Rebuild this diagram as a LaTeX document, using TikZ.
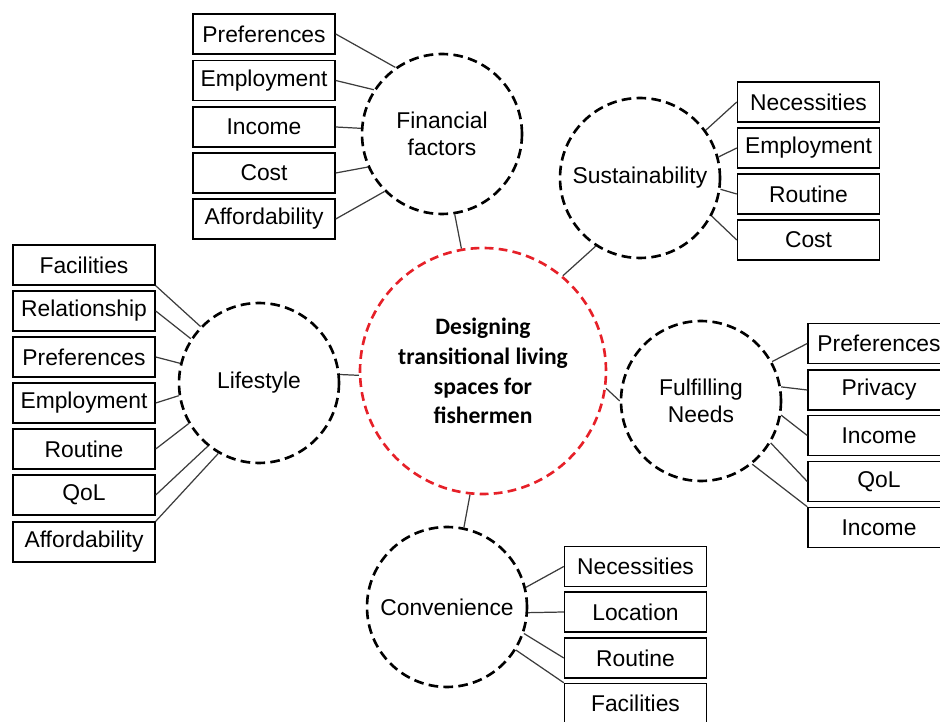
\documentclass[tikz,border=0pt]{standalone}
\usepackage{fontspec}
\setmainfont{Liberation Sans}
\newfontfamily\calibri{Carlito}
\usepackage{xcolor}
\definecolor{mainred}{RGB}{230,32,40}
\definecolor{linkgray}{RGB}{60,60,60}

\begin{document}
\begin{tikzpicture}[x=0.02cm, y=-0.02cm,
    factor/.style={draw, black, line width=1.5pt, dash pattern=on 5.5pt off 3pt, circle, minimum size=3.2cm, inner sep=0pt, align=center, font=\fontsize{13}{15.5}\selectfont},
    hub/.style={draw, mainred, line width=1.5pt, dash pattern=on 5pt off 3pt, circle, minimum size=4.92cm, inner sep=0pt, align=center, text=black, font=\calibri\bfseries\fontsize{13.4}{17}\selectfont},
    item/.style={draw, line width=0.85pt, minimum width=2.84cm, minimum height=0.8cm, inner sep=0pt, font=\fontsize{13}{15.5}\selectfont},
    link/.style={draw, linkgray, line width=0.7pt}]
    \useasboundingbox (0,0) rectangle (940,722);

    % Central circle
    \node[hub] (main) at (483,371) {Designing\\transitional living\\spaces for\\fishermen};

    % Factor circles
    \node[factor] (fin) at (442,134) {Financial\\factors};
    \node[factor] (sus) at (640,178) {Sustainability};
    \node[factor] (life) at (259,383) {Lifestyle};
    \node[factor] (need) at (701,401) {Fulfilling\\Needs};
    \node[factor] (conv) at (447,607) {Convenience};

    % Links to the central circle
    \draw[link] (fin.279) -- (main.100);
    \draw[link] (sus.237) -- (main.50);
    \draw[link] (life.6) -- (main.182);
    \draw[link] (main.-8) -- (need.180);
    \draw[link] (main.264) -- (conv.78);

    % Financial factors boxes
    \node[item] (finpref) at (264,34) {Preferences};
    \node[item] (finemp) at (264,80.5) {Employment};
    \node[item] (fininc) at (264,127) {Income};
    \node[item] (fincost) at (264,173) {Cost};
    \node[item] (finaff) at (264,219) {Affordability};
    \draw[link] (finpref.east) -- (fin.125);
    \draw[link] (finemp.east) -- (fin.147);
    \draw[link] (fininc.east) -- (fin.176);
    \draw[link] (fincost.east) -- (fin.204);
    \draw[link] (finaff.east) -- (fin.225);

    % Sustainability boxes
    \node[item] (susnec) at (808.5,102) {Necessities};
    \node[item] (susemp) at (808.5,148) {Employment};
    \node[item] (susrou) at (808.5,194) {Routine};
    \node[item] (suscost) at (808.5,240) {Cost};
    \draw[link] (susnec.west) -- (sus.36);
    \draw[link] (susemp.west) -- (sus.15);
    \draw[link] (susrou.west) -- (sus.-8);
    \draw[link] (suscost.west) -- (sus.-28);

    % Lifestyle boxes
    \node[item] (lifefac) at (84,265) {Facilities};
    \node[item] (liferel) at (84,311) {Relationship};
    \node[item] (lifepref) at (84,357) {Preferences};
    \node[item] (lifeemp) at (84,403) {Employment};
    \node[item] (liferou) at (84,449) {Routine};
    \node[item] (lifeqol) at (84,495) {QoL};
    \node[item] (lifeaff) at (84,542) {Affordability};
    \draw[link] (lifefac.south east) -- (life.136);
    \draw[link] (liferel.east) -- (life.147);
    \draw[link] (lifepref.east) -- (life.166);
    \draw[link] (lifeemp.east) -- (life.189);
    \draw[link] (liferou.east) -- (life.210);
    \draw[link] (lifeqol.east) -- (life.231);
    \draw[link] (lifeaff.north east) -- (life.240);

    % Fulfilling needs boxes
    \node[item] (needpref) at (879,343.5) {Preferences};
    \node[item] (needpriv) at (879,390) {Privacy};
    \node[item] (needinc) at (879,435.5) {Income};
    \node[item] (needqol) at (879,481.5) {QoL};
    \node[item] (needinc2) at (879,527.5) {Income};
    \draw[link] (needpref.west) -- (need.29);
    \draw[link] (needpriv.west) -- (need.10);
    \draw[link] (needinc.west) -- (need.-10);
    \draw[link] (needqol.west) -- (need.-31);
    \draw[link] (needinc2.north west) -- (need.-51);

    % Convenience boxes
    \node[item] (convnec) at (635.5,566.5) {Necessities};
    \node[item] (convloc) at (635.5,612) {Location};
    \node[item] (convrou) at (635.5,658) {Routine};
    \node[item] (convfac) at (635.5,703.5) {Facilities};
    \draw[link] (convnec.west) -- (conv.14);
    \draw[link] (convloc.west) -- (conv.-4);
    \draw[link] (convrou.west) -- (conv.-19);
    \draw[link] (convfac.north west) -- (conv.-32);
\end{tikzpicture}
\end{document}
